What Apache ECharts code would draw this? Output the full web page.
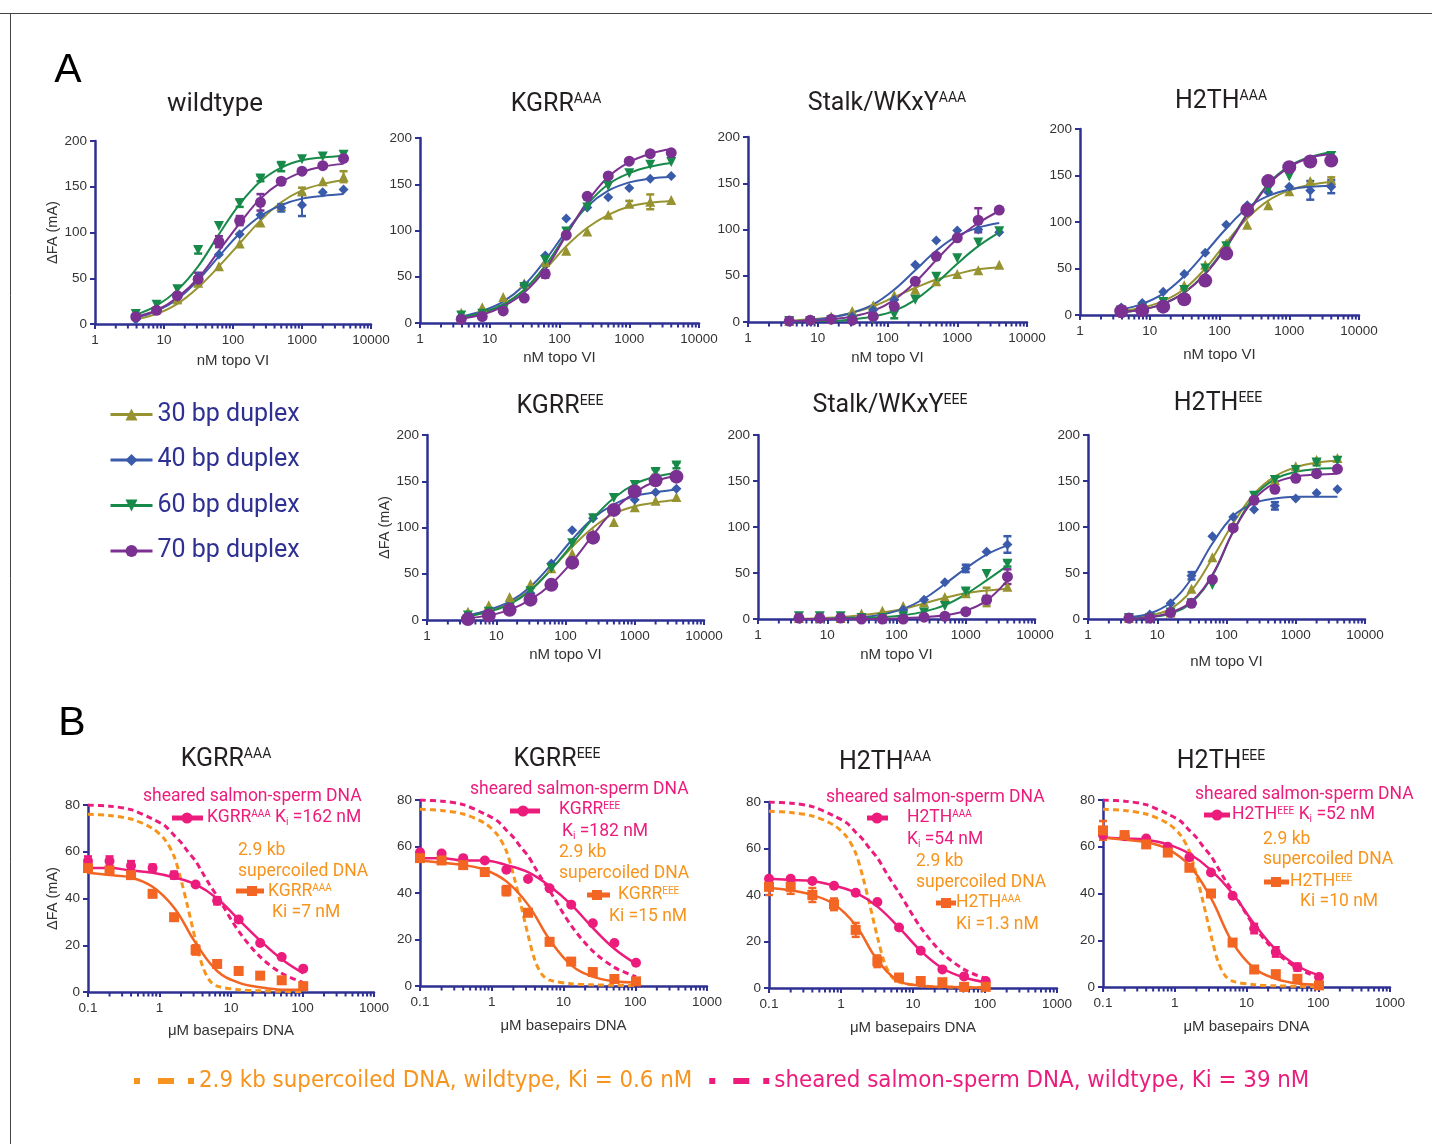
<!DOCTYPE html>
<html>
<head>
<meta charset="utf-8">
<script src="https://cdn.jsdelivr.net/npm/echarts@6/dist/echarts.min.js"></script>
<style>
  html, body { margin: 0; padding: 0; background: #fff; }
  #chart { width: 1432px; height: 1144px; }
</style>
</head>
<body>
<div id="chart"></div>
<script>
// x values (doubling dilutions)
const topoVI = [3.9, 7.8, 15.6, 31.25, 62.5, 125, 250, 500, 1000, 2000, 4000]
const bpDNA = [0.1, 0.2, 0.4, 0.8, 1.6, 3.2, 6.4, 12.8, 25.6, 51.2, 102.4]
const wtCurveX = [0.1, 0.2, 0.4, 0.8, 1.2, 1.6, 2, 2.5, 3.2, 4, 5, 6.4, 12.8, 25.6, 51.2, 102.4]

const duplexNames = ['30 bp duplex', '40 bp duplex', '60 bp duplex', '70 bp duplex']

// panel A: points / fitted curves / error bars, order 30, 40, 60, 70 bp
const wildtypePts = [
  [10, 16, 27, 45, 63, 88, 111, 129, 145, 156, 161],
  [5, 16, 30, 52, 76, 98, 119, 127, 130, 144, 147],
  [11, 21, 38, 81, 107, 132, 159, 172, 180, 183, 185],
  [8, 15, 31, 49, 90, 113, 133, 156, 167, 173, 181]
]
const wildtypeFit = [
  [5, 11, 22, 40, 63, 88, 113, 133, 146, 153, 157],
  [7, 14, 27, 48, 74, 99, 118, 130, 137, 140, 142],
  [10, 20, 37, 63, 98, 131, 156, 171, 179, 182, 184],
  [8, 15, 29, 50, 80, 110, 137, 155, 166, 172, 175]
]
const wildtypeErr = [
  [0, 0, 4, 0, 0, 0, 0, 0, 4, 0, 6],
  [0, 0, 0, 0, 0, 0, 0, 4, 12, 0, 0],
  [0, 0, 0, 4, 0, 4, 3, 5, 0, 0, 0],
  [0, 0, 0, 7, 6, 5, 9, 3, 0, 0, 0]
]
const kgrrAAAPts = [
  [11, 17, 28, 43, 66, 78, 99, 117, 129, 131, 133],
  [7, 8, 16, 41, 73, 113, 125, 136, 146, 156, 159],
  [8, 10, 14, 39, 68, 99, 125, 148, 162, 171, 174],
  [4, 7, 13, 27, 53, 95, 137, 159, 175, 183, 184]
]
const kgrrAAAFit = [
  [6, 11, 20, 36, 58, 83, 103, 117, 126, 130, 132],
  [7, 13, 23, 41, 68, 99, 126, 143, 152, 156, 158],
  [6, 11, 20, 36, 62, 96, 128, 150, 162, 169, 173],
  [5, 9, 18, 33, 58, 95, 131, 158, 174, 183, 188]
]
const kgrrAAAErr = [
  [0, 0, 0, 0, 0, 0, 0, 0, 3, 8, 0],
  [0, 0, 0, 0, 0, 0, 0, 0, 0, 0, 0],
  [0, 0, 0, 0, 0, 0, 0, 0, 0, 0, 0],
  [0, 0, 0, 0, 4, 0, 0, 0, 0, 0, 0]
]
const stalkAAAPts = [
  [1, 3, 6, 12, 18, 29, 35, 44, 52, 56, 62],
  [1, 2, 4, 6, 13, 24, 62, 88, 99, 100, 97],
  [1, 1, 2, 2, 3, 8, 24, 49, 69, 86, 98],
  [1, 2, 3, 2, 6, 17, 44, 71, 91, 110, 121]
]
const stalkAAAFit = [
  [1, 3, 5, 10, 17, 27, 37, 46, 52, 57, 59],
  [1, 2, 5, 10, 19, 35, 56, 77, 93, 102, 107],
  [0, 1, 1, 3, 6, 12, 24, 42, 63, 82, 97],
  [1, 1, 3, 6, 12, 24, 43, 67, 90, 107, 120]
]
const stalkAAAErr = [
  [0, 0, 0, 0, 0, 0, 0, 0, 0, 0, 0],
  [0, 0, 0, 0, 0, 0, 0, 0, 0, 0, 0],
  [0, 0, 0, 0, 0, 4, 0, 0, 0, 0, 0],
  [0, 0, 0, 0, 0, 0, 0, 0, 0, 13, 0]
]
const h2thAAAPts = [
  [4, 9, 16, 32, 54, 77, 97, 118, 133, 144, 145],
  [8, 13, 25, 44, 67, 97, 118, 132, 138, 134, 138],
  [5, 7, 14, 27, 50, 74, 110, 135, 149, 163, 171],
  [4, 5, 9, 17, 37, 66, 113, 144, 159, 165, 166]
]
const h2thAAAFit = [
  [4, 8, 15, 28, 50, 78, 104, 123, 134, 140, 143],
  [6, 12, 23, 42, 67, 93, 115, 128, 135, 138, 139],
  [3, 6, 12, 24, 45, 74, 109, 141, 160, 170, 175],
  [3, 6, 12, 24, 44, 73, 108, 140, 159, 169, 173]
]
const h2thAAAErr = [
  [0, 0, 0, 0, 0, 0, 0, 0, 0, 0, 3],
  [0, 0, 0, 0, 0, 0, 0, 0, 0, 10, 7],
  [0, 0, 0, 0, 0, 0, 0, 0, 0, 0, 0],
  [0, 0, 0, 0, 0, 0, 0, 0, 0, 0, 0]
]
const kgrrEEEPts = [
  [9, 16, 25, 39, 56, 72, 94, 106, 122, 129, 133],
  [4, 7, 14, 29, 61, 97, 110, 121, 130, 138, 142],
  [5, 9, 13, 31, 56, 83, 110, 132, 146, 160, 167],
  [1, 5, 11, 22, 38, 62, 89, 119, 139, 151, 155]
]
const kgrrEEEFit = [
  [5, 10, 18, 33, 55, 79, 100, 115, 123, 127, 130],
  [5, 11, 20, 36, 60, 87, 110, 125, 134, 138, 141],
  [4, 9, 17, 32, 55, 82, 110, 132, 147, 155, 159],
  [2, 5, 11, 22, 39, 63, 92, 119, 138, 150, 156]
]
const kgrrEEEErr = [
  [0, 0, 0, 0, 0, 0, 0, 0, 0, 0, 0],
  [0, 0, 0, 0, 0, 0, 0, 0, 0, 0, 0],
  [0, 0, 0, 0, 0, 0, 0, 0, 0, 3, 3],
  [0, 0, 0, 0, 0, 0, 0, 0, 0, 0, 0]
]
const stalkEEEPts = [
  [1, 1, 1, 6, 9, 14, 18, 24, 28, 24, 35],
  [1, 1, 1, 1, 1, 10, 21, 40, 55, 73, 81],
  [3, 3, 3, 1, 1, 3, 7, 14, 30, 49, 60],
  [1, 1, 1, 0, 0, 0, 2, 3, 8, 21, 46]
]
const stalkEEEFit = [
  [0, 1, 2, 4, 7, 11, 17, 23, 28, 31, 33],
  [0, 0, 1, 2, 5, 11, 22, 38, 55, 70, 80],
  [0, 0, 0, 1, 2, 4, 8, 15, 27, 42, 58],
  [0, 0, 0, 0, 0, 1, 2, 4, 9, 20, 42]
]
const stalkEEEErr = [
  [0, 0, 0, 0, 0, 0, 0, 0, 0, 10, 0],
  [0, 0, 0, 0, 0, 0, 0, 0, 4, 0, 9],
  [0, 0, 0, 0, 0, 0, 0, 0, 3, 0, 3],
  [0, 0, 0, 0, 0, 0, 0, 0, 0, 4, 8]
]
const h2thEEEPts = [
  [1, 3, 7, 33, 67, 101, 134, 151, 166, 173, 175],
  [1, 5, 17, 47, 90, 111, 119, 123, 131, 137, 141],
  [1, 1, 7, 17, 37, 98, 134, 151, 162, 170, 172],
  [1, 1, 7, 17, 43, 99, 129, 141, 153, 158, 163]
]
const h2thEEEFit = [
  [1, 4, 11, 31, 66, 104, 136, 155, 165, 170, 172],
  [2, 6, 18, 44, 82, 112, 126, 131, 133, 133, 133],
  [0, 2, 6, 18, 47, 95, 133, 152, 160, 163, 164],
  [0, 2, 7, 19, 48, 95, 130, 148, 155, 157, 158]
]
const h2thEEEErr = [
  [0, 0, 0, 0, 0, 0, 0, 0, 0, 0, 0],
  [0, 0, 0, 4, 0, 0, 0, 4, 0, 0, 0],
  [0, 0, 0, 0, 0, 0, 0, 0, 0, 3, 0],
  [0, 0, 0, 0, 0, 0, 0, 0, 0, 0, 0]
]

// panel B: competition curves
const wtSupercoiled = [76, 75.5, 74, 70, 65, 58, 48, 36, 22, 11, 5, 2.5, 1, 0.5, 0.3, 0.2]
const wtSalmon = [80, 79.5, 78, 74, 71, 67, 64, 60, 56, 51, 46, 41, 26, 15, 8, 4]

const kgrrAAASalmonPts = [56, 56, 54, 53, 50, 46, 39, 31, 21, 15, 10]
const kgrrAAASalmonFit = [53, 53, 52, 51, 49, 46, 40, 31, 22, 14, 8]
const kgrrAAASalmonErr = [2, 2, 2, 1.5, 1.5, 0, 1.5, 0, 0, 0, 0]
const kgrrAAAScPts = [53, 52, 50, 42, 32, 18, 12, 9, 7, 5, 2.5]
const kgrrAAAScFit = [51, 50, 49, 45, 36, 21, 9, 4, 2, 1, 1]
const kgrrAAAScErr = [1, 1, 1, 0, 0, 2, 0, 0, 0, 0, 0]

const kgrrEEESalmonPts = [57.5, 57, 55, 54, 50, 46, 42, 35, 27, 18.5, 10]
const kgrrEEESalmonFit = [55, 55, 54, 54, 52, 49, 43, 35, 25, 16, 9.5]
const kgrrEEESalmonErr = [0, 0, 0, 0, 0, 0, 0, 0, 0, 0, 0]
const kgrrEEEScPts = [55, 54, 52, 49, 41, 31.5, 19, 10.5, 6, 3, 2]
const kgrrEEEScFit = [54, 53, 52, 50, 45, 35, 20, 9, 4, 2, 1.5]
const kgrrEEEScErr = [1, 0, 1, 1.5, 2, 0, 1.5, 0, 0, 1.5, 1]

const h2thAAASalmonPts = [47, 47, 46, 44, 41, 37, 26, 16, 8, 5, 3]
const h2thAAASalmonFit = [47, 46.5, 46, 44, 41, 35, 26, 16, 8.5, 4.5, 2.5]
const h2thAAASalmonErr = [0, 0, 0, 0, 0, 0, 0, 0, 0, 0, 0]
const h2thAAAScPts = [43.5, 43.5, 40, 36, 25, 11.5, 4.5, 3, 2.5, 0.5, 0.5]
const h2thAAAScFit = [43, 42, 40, 36, 27, 12, 3, 1, 0.5, 0.3, 0.2]
const h2thAAAScErr = [3.5, 3, 3, 2.5, 3, 2.5, 1, 1, 1, 1.5, 0.5]

const h2thEEESalmonPts = [65, 64.5, 63.5, 60, 55.5, 49, 39, 25, 15, 8.5, 4.3]
const h2thEEESalmonFit = [64, 63.5, 63, 61, 57, 50, 40, 27, 16, 9, 5]
const h2thEEESalmonErr = [0, 0, 0, 0, 0, 0, 0, 2, 2, 1.5, 0]
const h2thEEEScPts = [67, 65, 61, 57.5, 51, 40, 19, 7.5, 5.5, 3.5, 0.7]
const h2thEEEScFit = [64, 63, 62, 59, 52, 38, 19, 8, 3.5, 1.5, 1]
const h2thEEEScErr = [4, 1, 1, 0, 0, 0, 0, 0, 0, 1.5, 0]

const scWildName = '2.9 kb supercoiled DNA, wildtype, Ki = 0.6 nM'
const salmonWildName = 'sheared salmon-sperm DNA, wildtype, Ki = 39 nM'

// ------------------------------------------------------------------
const SANS = '"Liberation Sans", Arial, sans-serif'
const MYRIAD = 'Roboto, "Liberation Sans", sans-serif'
const NARROW = '"Liberation Sans Narrow", "DejaVu Sans Condensed", sans-serif'
const axisColor = '#2E3192'
const duplexColors = ['#969330', '#3A5BAA', '#178A4A', '#7B3192']
const duplexSymbols = ['triangle', 'diamond', 'triangle', 'circle']
const duplexRotate = [0, 0, 180, 0]
const pink = '#EC1C7C'
const orange = '#F26522'
const orangeLight = '#F7941D'

const minorA = [1, 10, 100, 1000].flatMap(d => [2, 3, 4, 5, 6, 7, 8, 9].map(m => m * d))
const minorB = [0.1, 1, 10, 100].flatMap(d => [2, 3, 4, 5, 6, 7, 8, 9].map(m => +(m * d).toFixed(2)))

const grids = []
const xAxes = []
const yAxes = []
const series = []

// plain numbers on the log axes: 1, 10, 100, 1000, 10000, 0.1
function logLabel(v) {
  return v >= 1 ? String(Math.round(v)) : String(+v.toFixed(3))
}

function addAxes(box, xMin, xMax, xName, xGap, yMax, yInterval, yName, yGap) {
  const i = grids.length
  grids.push(Object.assign({ containLabel: false }, box))
  xAxes.push({
    gridIndex: i, type: 'log', logBase: 10, min: xMin, max: xMax,
    axisLine: { lineStyle: { color: axisColor, width: 2.5 } },
    axisTick: { length: 5, lineStyle: { color: axisColor, width: 2 } },
    axisLabel: { fontSize: 13.5, color: '#333', fontFamily: SANS, margin: 9, formatter: logLabel },
    splitLine: { show: false },
    name: xName, nameLocation: 'middle', nameGap: xGap,
    nameTextStyle: { fontSize: 15, color: '#333', fontFamily: SANS }
  })
  yAxes.push({
    gridIndex: i, type: 'value', min: 0, max: yMax, interval: yInterval,
    axisLine: { show: true, lineStyle: { color: axisColor, width: 2.5 } },
    axisTick: { show: true, length: 5, lineStyle: { color: axisColor, width: 2 } },
    axisLabel: { fontSize: 13.5, color: '#333', fontFamily: SANS, margin: 8 },
    splitLine: { show: false },
    name: yName ? '\u0394FA (mA)' : '', nameLocation: 'middle', nameGap: yGap,
    nameTextStyle: { fontSize: 14.5, color: '#333', fontFamily: SANS }
  })
  return i
}

function minorTicks(i, values) {
  series.push({
    type: 'custom', xAxisIndex: i, yAxisIndex: i, silent: true, clip: false, z: 1,
    data: values.map(v => [v, 0]),
    renderItem: (params, api) => {
      const p = api.coord([api.value(0), api.value(1)])
      return {
        type: 'line',
        shape: { x1: p[0], y1: p[1], x2: p[0], y2: p[1] + 4.5 },
        style: { stroke: axisColor, lineWidth: 2 }
      }
    }
  })
}

// mean +/- error, drawn through the axes
function errorBars(i, xs, ys, errs, color) {
  const data = []
  xs.forEach((x, k) => { if (errs[k] > 0) data.push([x, ys[k] - errs[k], ys[k] + errs[k]]) })
  if (!data.length) return
  series.push({
    type: 'custom', xAxisIndex: i, yAxisIndex: i, silent: true, z: 3,
    data: data,
    renderItem: (params, api) => {
      const lo = api.coord([api.value(0), api.value(1)])
      const hi = api.coord([api.value(0), api.value(2)])
      const w = 4
      return {
        type: 'group',
        children: [
          { type: 'line', shape: { x1: lo[0], y1: lo[1], x2: hi[0], y2: hi[1] }, style: { stroke: color, lineWidth: 2 } },
          { type: 'line', shape: { x1: lo[0] - w, y1: lo[1], x2: lo[0] + w, y2: lo[1] }, style: { stroke: color, lineWidth: 2.5 } },
          { type: 'line', shape: { x1: hi[0] - w, y1: hi[1], x2: hi[0] + w, y2: hi[1] }, style: { stroke: color, lineWidth: 2.5 } }
        ]
      }
    }
  })
}

// panel A
const panelsA = [
  { box: { left: 95, top: 141, width: 276, height: 183 }, pts: wildtypePts, fit: wildtypeFit, err: wildtypeErr, xGap: 29, yName: true, yGap: 33 },
  { box: { left: 420, top: 138, width: 279, height: 185 }, pts: kgrrAAAPts, fit: kgrrAAAFit, err: kgrrAAAErr, xGap: 27 },
  { box: { left: 748, top: 137, width: 279, height: 185 }, pts: stalkAAAPts, fit: stalkAAAFit, err: stalkAAAErr, xGap: 28 },
  { box: { left: 1080, top: 129, width: 279, height: 186 }, pts: h2thAAAPts, fit: h2thAAAFit, err: h2thAAAErr, xGap: 32, bigCircle: true },
  { box: { left: 427, top: 435, width: 277, height: 185 }, pts: kgrrEEEPts, fit: kgrrEEEFit, err: kgrrEEEErr, xGap: 27, yName: true, yGap: 35, bigCircle: true },
  { box: { left: 758, top: 435, width: 277, height: 184 }, pts: stalkEEEPts, fit: stalkEEEFit, err: stalkEEEErr, xGap: 28 },
  { box: { left: 1088, top: 435, width: 277, height: 184 }, pts: h2thEEEPts, fit: h2thEEEFit, err: h2thEEEErr, xGap: 35 }
]

panelsA.forEach(p => {
  const i = addAxes(p.box, 1, 10000, 'nM topo VI', p.xGap, 200, 50, p.yName, p.yGap)
  minorTicks(i, minorA)
  for (let d = 0; d < 4; d++) {
    series.push({
      name: duplexNames[d], type: 'line', xAxisIndex: i, yAxisIndex: i,
      data: topoVI.map((x, k) => [x, p.fit[d][k]]),
      smooth: 0.4, showSymbol: false, symbol: duplexSymbols[d], symbolRotate: duplexRotate[d],
      lineStyle: { color: duplexColors[d], width: 2 },
      itemStyle: { color: duplexColors[d] }, z: 2
    })
  }
  for (let d = 0; d < 4; d++) {
    errorBars(i, topoVI, p.pts[d], p.err[d], duplexColors[d])
    series.push({
      name: duplexNames[d] + ' points', type: 'scatter', xAxisIndex: i, yAxisIndex: i,
      data: topoVI.map((x, k) => [x, p.pts[d][k]]),
      symbol: duplexSymbols[d], symbolRotate: duplexRotate[d],
      symbolSize: d === 3 ? (p.bigCircle ? 14 : 11) : 10,
      itemStyle: { color: duplexColors[d], opacity: 1 }, z: 3
    })
  }
})

// panel B
const panelsB = [
  { box: { left: 88, top: 805, width: 286, height: 187 }, sp: kgrrAAASalmonPts, sf: kgrrAAASalmonFit, se: kgrrAAASalmonErr, cp: kgrrAAAScPts, cf: kgrrAAAScFit, ce: kgrrAAAScErr, xGap: 31, yName: true, yGap: 28 },
  { box: { left: 420, top: 800, width: 287, height: 186 }, sp: kgrrEEESalmonPts, sf: kgrrEEESalmonFit, se: kgrrEEESalmonErr, cp: kgrrEEEScPts, cf: kgrrEEEScFit, ce: kgrrEEEScErr, xGap: 32 },
  { box: { left: 769, top: 802, width: 288, height: 186 }, sp: h2thAAASalmonPts, sf: h2thAAASalmonFit, se: h2thAAASalmonErr, cp: h2thAAAScPts, cf: h2thAAAScFit, ce: h2thAAAScErr, xGap: 32 },
  { box: { left: 1103, top: 800, width: 287, height: 187 }, sp: h2thEEESalmonPts, sf: h2thEEESalmonFit, se: h2thEEESalmonErr, cp: h2thEEEScPts, cf: h2thEEEScFit, ce: h2thEEEScErr, xGap: 32 }
]

panelsB.forEach(p => {
  const i = addAxes(p.box, 0.1, 1000, '\u03BCM basepairs DNA', p.xGap, 80, 20, p.yName, p.yGap)
  minorTicks(i, minorB)
  series.push({
    name: scWildName, type: 'line', xAxisIndex: i, yAxisIndex: i,
    data: wtCurveX.map((x, k) => [x, wtSupercoiled[k]]),
    smooth: 0.3, showSymbol: false, symbol: 'none',
    lineStyle: { color: orangeLight, width: 3, type: [6, 4] },
    itemStyle: { color: orangeLight }, z: 2
  })
  series.push({
    name: salmonWildName, type: 'line', xAxisIndex: i, yAxisIndex: i,
    data: wtCurveX.map((x, k) => [x, wtSalmon[k]]),
    smooth: 0.3, showSymbol: false, symbol: 'none',
    lineStyle: { color: pink, width: 3, type: [6, 4] },
    itemStyle: { color: pink }, z: 2
  })
  series.push({
    name: 'salmon fit', type: 'line', xAxisIndex: i, yAxisIndex: i,
    data: bpDNA.map((x, k) => [x, p.sf[k]]),
    smooth: 0.4, showSymbol: false,
    lineStyle: { color: pink, width: 2.5 }, itemStyle: { color: pink }, z: 3
  })
  series.push({
    name: 'supercoiled fit', type: 'line', xAxisIndex: i, yAxisIndex: i,
    data: bpDNA.map((x, k) => [x, p.cf[k]]),
    smooth: 0.4, showSymbol: false,
    lineStyle: { color: orange, width: 2.5 }, itemStyle: { color: orange }, z: 3
  })
  errorBars(i, bpDNA, p.sp, p.se, pink)
  errorBars(i, bpDNA, p.cp, p.ce, orange)
  series.push({
    name: 'salmon points', type: 'scatter', xAxisIndex: i, yAxisIndex: i,
    data: bpDNA.map((x, k) => [x, p.sp[k]]),
    symbol: 'circle', symbolSize: 10, itemStyle: { color: pink, opacity: 1 }, z: 4
  })
  series.push({
    name: 'supercoiled points', type: 'scatter', xAxisIndex: i, yAxisIndex: i,
    data: bpDNA.map((x, k) => [x, p.cp[k]]),
    symbol: 'rect', symbolSize: 10, itemStyle: { color: orange, opacity: 1 }, z: 4
  })
})

// titles and annotations
function titleText(x, y, main, sup, size) {
  return {
    type: 'text', x: x, y: y,
    style: {
      text: '{m|' + main + '}{s|' + sup + '}',
      align: 'center', verticalAlign: 'middle',
      rich: {
        m: { fontSize: size, fontFamily: MYRIAD, fill: '#231F20' },
        s: { fontSize: Math.round(size * 0.56), fontFamily: MYRIAD, fill: '#231F20', verticalAlign: 'top' }
      }
    }
  }
}

function note(x, y, text, color) {
  return {
    type: 'text', x: x, y: y,
    style: {
      text: text, align: 'left', verticalAlign: 'middle',
      fontSize: 17.5, fontFamily: MYRIAD, fill: color,
      rich: {
        t: { fontSize: 17.5, fontFamily: MYRIAD, fill: color },
        s: { fontSize: 10, fontFamily: MYRIAD, fill: color, verticalAlign: 'top' },
        i: { fontSize: 10, fontFamily: MYRIAD, fill: color, verticalAlign: 'bottom' }
      }
    }
  }
}

function glyph(x1, x2, xm, y, color, shape) {
  const mark = shape === 'circle'
    ? { type: 'circle', shape: { cx: xm, cy: y, r: 5.5 }, style: { fill: color } }
    : { type: 'rect', shape: { x: xm - 5, y: y - 5, width: 10, height: 10 }, style: { fill: color } }
  return [
    { type: 'line', shape: { x1: x1, y1: y, x2: x2, y2: y }, style: { stroke: color, lineWidth: 5 } },
    mark
  ]
}

const graphics = [
  { type: 'line', shape: { x1: 0, y1: 13.5, x2: 1432, y2: 13.5 }, style: { stroke: '#444', lineWidth: 1 } },
  { type: 'line', shape: { x1: 10.5, y1: 13, x2: 10.5, y2: 1144 }, style: { stroke: '#444', lineWidth: 1 } },
  { type: 'text', x: 68, y: 71, style: { text: 'A', fontSize: 41, fontFamily: SANS, fill: '#000', align: 'center', verticalAlign: 'middle' } },
  { type: 'text', x: 72, y: 724, style: { text: 'B', fontSize: 41, fontFamily: SANS, fill: '#000', align: 'center', verticalAlign: 'middle' } },
  { type: 'text', x: 215, y: 104, style: { text: 'wildtype', fontSize: 26, fontFamily: MYRIAD, fill: '#231F20', align: 'center', verticalAlign: 'middle' } },
  titleText(556, 105, 'KGRR', 'AAA', 25),
  titleText(887, 104, 'Stalk/WKxY', 'AAA', 25),
  titleText(1221, 102, 'H2TH', 'AAA', 25),
  titleText(560, 407, 'KGRR', 'EEE', 25),
  titleText(890, 406, 'Stalk/WKxY', 'EEE', 25),
  titleText(1218, 404, 'H2TH', 'EEE', 25),
  titleText(226, 760, 'KGRR', 'AAA', 25),
  titleText(557, 760, 'KGRR', 'EEE', 25),
  titleText(885, 763, 'H2TH', 'AAA', 25),
  titleText(1221, 762, 'H2TH', 'EEE', 25),

  // KGRR AAA
  note(143, 797, 'sheared salmon-sperm DNA', pink),
  ...glyph(172, 203, 187, 818, pink, 'circle'),
  note(207, 818, '{t|KGRR}{s|AAA}{t| K}{i|i}{t| =162 nM}', pink),
  note(238, 851, '2.9 kb', orangeLight),
  note(238, 872, 'supercoiled DNA', orangeLight),
  ...glyph(236, 264, 252, 891, orange, 'rect'),
  note(268, 892, '{t|KGRR}{s|AAA}', orangeLight),
  note(272, 913, 'Ki =7 nM', orangeLight),

  // KGRR EEE
  note(470, 790, 'sheared salmon-sperm DNA', pink),
  ...glyph(510, 540, 523, 811, pink, 'circle'),
  note(559, 810, '{t|KGRR}{s|EEE}', pink),
  note(562, 832, '{t|K}{i|i}{t| =182 nM}', pink),
  note(559, 853, '2.9 kb', orangeLight),
  note(559, 874, 'supercoiled DNA', orangeLight),
  ...glyph(587, 610, 597, 895, orange, 'rect'),
  note(618, 895, '{t|KGRR}{s|EEE}', orangeLight),
  note(609, 917, 'Ki =15 nM', orangeLight),

  // H2TH AAA
  note(826, 798, 'sheared salmon-sperm DNA', pink),
  ...glyph(867, 888, 877, 818, pink, 'circle'),
  note(907, 818, '{t|H2TH}{s|AAA}', pink),
  note(907, 840, '{t|K}{i|i}{t| =54 nM}', pink),
  note(916, 862, '2.9 kb', orangeLight),
  note(916, 883, 'supercoiled DNA', orangeLight),
  ...glyph(936, 956, 946, 903, orange, 'rect'),
  note(956, 903, '{t|H2TH}{s|AAA}', orangeLight),
  note(956, 925, 'Ki =1.3 nM', orangeLight),

  // H2TH EEE
  note(1195, 795, 'sheared salmon-sperm DNA', pink),
  ...glyph(1204, 1230, 1217, 815, pink, 'circle'),
  note(1232, 815, '{t|H2TH}{s|EEE}{t| K}{i|i}{t| =52 nM}', pink),
  note(1263, 840, '2.9 kb', orangeLight),
  note(1263, 860, 'supercoiled DNA', orangeLight),
  ...glyph(1264, 1289, 1276, 882, orange, 'rect'),
  note(1290, 882, '{t|H2TH}{s|EEE}', orangeLight),
  note(1300, 902, 'Ki =10 nM', orangeLight)
]

const option = {
  backgroundColor: '#fff',
  animation: false,
  grid: grids,
  xAxis: xAxes,
  yAxis: yAxes,
  legend: [
    {
      data: duplexNames, orient: 'vertical', left: 104, top: 397,
      itemWidth: 42, itemHeight: 15, itemGap: 20.5, selectedMode: false,
      lineStyle: { width: 3 },
      textStyle: { fontSize: 25, lineHeight: 25, color: '#2E3192', fontFamily: MYRIAD, padding: [0, 0, 0, 0] }
    },
    {
      orient: 'horizontal', left: 129, top: 1064, itemWidth: 60, itemHeight: 6, itemGap: 17,
      selectedMode: false,
      data: [
        { name: scWildName, icon: 'path://M0,0h6v6h-6z M24,0h16v6h-16z M54,0h6v6h-6z', textStyle: { color: orangeLight } },
        { name: salmonWildName, icon: 'path://M0,0h6v6h-6z M24,0h16v6h-16z M54,0h6v6h-6z', textStyle: { color: pink } }
      ],
      textStyle: { fontSize: 23.8, fontFamily: NARROW, padding: [0, 0, 0, 0] }
    }
  ],
  graphic: graphics,
  series: series
}

const chart = echarts.init(document.getElementById('chart'))
chart.setOption(option)
</script>
</body>
</html>
